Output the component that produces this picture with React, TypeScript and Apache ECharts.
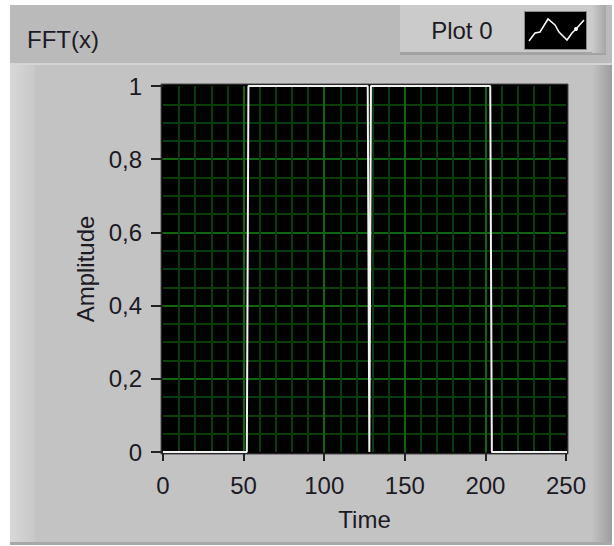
import React, { useEffect, useRef } from "react";
import * as echarts from "echarts";

// ---- data ----
const timeIndex = [0, 52, 53, 127, 128, 129, 203, 204, 255];
const amplitude = [0, 0, 1, 1, 0, 1, 1, 0, 0];
const xTicks = [0, 50, 100, 150, 200, 250];
const yTicks = [0, 0.2, 0.4, 0.6, 0.8, 1];
const seriesName = "Plot 0";
const graphTitle = "FFT(x)";
const xName = "Time";
const yName = "Amplitude";
const legendIconPoints = [
  [529, 41], [535, 33], [540, 32], [548, 19], [555, 25],
  [559, 32], [567, 40], [572, 33], [576, 29], [584, 20],
];

const FONT = "'Liberation Sans', Arial, sans-serif";
const TXT = "#1c1a24";
const MAJOR = "#0f660f";
const MINOR = "#093d09";

export default function App() {
  const ref = useRef<HTMLDivElement>(null);
  useEffect(() => {
    if (!ref.current) return;
    const chart = echarts.init(ref.current, undefined, { renderer: "svg" });
    const grad = (a: string, b: string) =>
      new echarts.graphic.LinearGradient(0, 0, 1, 0, [
        { offset: 0, color: a },
        { offset: 1, color: b },
      ]);
    const option: any = {
      animation: false,
      title: {
        text: graphTitle,
        left: 27,
        top: 27,
        padding: 0,
        textStyle: { fontFamily: FONT, fontSize: 24, fontWeight: "normal", color: TXT },
      },
      legend: {
        right: 27,
        top: 11,
        padding: 0,
        itemWidth: 62,
        itemHeight: 38,
        align: "right",
        icon: "rect",
        selectedMode: false,
        itemStyle: { color: "#000", borderColor: "#8a8a8a", borderWidth: 1 },
        formatter: "{a|{name}}",
        textStyle: {
          rich: {
            a: { fontFamily: FONT, fontSize: 24, color: TXT, padding: [0, 27, 0, 0] },
          },
        },
        data: [seriesName],
      },
      grid: { left: 163, right: 48, top: 86, bottom: 94, containLabel: false },
      xAxis: {
        type: "value",
        min: xTicks[0],
        max: xTicks[xTicks.length - 1],
        interval: xTicks[1] - xTicks[0],
        offset: 7,
        name: xName,
        nameLocation: "middle",
        nameGap: 48,
        nameTextStyle: { fontFamily: FONT, fontSize: 24, color: TXT },
        axisLine: { show: false },
        axisTick: { show: true, length: 9, lineStyle: { color: "#222", width: 2 } },
        axisLabel: { margin: 14, fontFamily: FONT, fontSize: 24, color: TXT },
        splitLine: { show: true, showMinLine: false, showMaxLine: false, lineStyle: { color: MAJOR, width: 2 } },
        minorTick: { show: false, splitNumber: 5 },
        minorSplitLine: { show: true, lineStyle: { color: MINOR, width: 2 } },
      },
      yAxis: {
        type: "value",
        min: yTicks[0],
        max: yTicks[yTicks.length - 1],
        interval: yTicks[1] - yTicks[0],
        offset: 4,
        name: yName,
        nameLocation: "middle",
        nameGap: 61,
        nameTextStyle: { fontFamily: FONT, fontSize: 24, color: TXT },
        axisLine: { show: false },
        axisTick: { show: true, length: 12, lineStyle: { color: "#222", width: 2 } },
        axisLabel: {
          margin: 17,
          fontFamily: FONT,
          fontSize: 24,
          color: TXT,
          formatter: (v: number) => String(Math.round(v * 10) / 10).replace(".", ","),
        },
        splitLine: { show: true, showMinLine: false, showMaxLine: false, lineStyle: { color: MAJOR, width: 2 } },
        minorTick: { show: false, splitNumber: 4 },
        minorSplitLine: { show: true, lineStyle: { color: MINOR, width: 2 } },
      },
      series: [
        {
          name: seriesName,
          type: "line",
          showSymbol: false,
          data: timeIndex.map((t, i) => [t, amplitude[i]]),
          lineStyle: { color: "#f2f2f2", width: 2 },
          itemStyle: { color: "#f2f2f2" },
          z: 5,
        },
      ],
      graphic: [
        { type: "rect", z: -100, shape: { x: 10, y: 5, width: 602, height: 58 }, style: { fill: "#bababa" } },
        { type: "rect", z: -100, shape: { x: 10, y: 63, width: 602, height: 482 }, style: { fill: "#c3c3c3" } },
        { type: "rect", z: -99, shape: { x: 10, y: 63, width: 602, height: 2 }, style: { fill: "#d6d6d6" } },
        { type: "rect", z: -99, shape: { x: 10, y: 65, width: 25, height: 478 }, style: { fill: grad("#d8d8d8", "#c8c8c8") } },
        { type: "rect", z: -99, shape: { x: 592, y: 65, width: 20, height: 478 }, style: { fill: grad("#c3c3c3", "#9c9c9c") } },
        { type: "rect", z: -99, shape: { x: 10, y: 542, width: 602, height: 3 }, style: { fill: "#a8a8a8" } },
        { type: "rect", z: -98, shape: { x: 400, y: 5, width: 206, height: 48 }, style: { fill: "#cbcbcb" } },
        { type: "rect", z: -98, shape: { x: 400, y: 52, width: 206, height: 3 }, style: { fill: "#a3a3a3" } },
        { type: "rect", z: -97, shape: { x: 592, y: 5, width: 14, height: 48 }, style: { fill: grad("#cbcbcb", "#a6a6a6") } },
        { type: "rect", z: -50, shape: { x: 161, y: 84, width: 407, height: 370 }, style: { fill: "#000", stroke: "#4d4d4d", lineWidth: 1 } },
        {
          type: "polyline",
          z: 100,
          shape: { points: legendIconPoints },
          style: { stroke: "#ffffff", lineWidth: 1.5, fill: null },
        },
        {
          type: "circle",
          z: 101,
          shape: { cx: legendIconPoints[8][0], cy: legendIconPoints[8][1], r: 2 },
          style: { fill: "#ffffff" },
        },
      ],
    };
    chart.setOption(option);
    return () => chart.dispose();
  }, []);
  return (
    <div
      ref={ref}
      style={{ position: "absolute", left: 0, top: 0, width: 614, height: 546 }}
    />
  );
}
